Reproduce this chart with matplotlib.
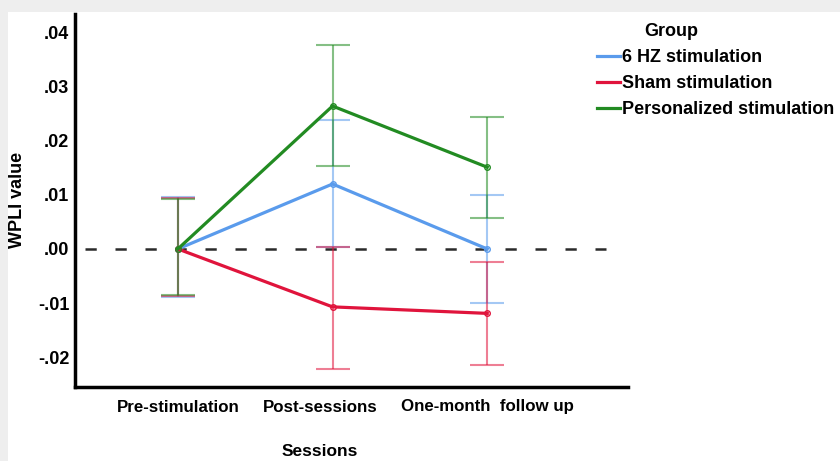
import matplotlib.pyplot as plt
from matplotlib.patches import Rectangle
from matplotlib.lines import Line2D
from matplotlib.transforms import ScaledTranslation

plt.rcParams['font.family'] = ['Liberation Sans', 'DejaVu Sans']
plt.rcParams['font.weight'] = 'bold'

sessions = ['Pre-stimulation', 'Post-sessions', 'One-month  follow up']
groups = ['6 HZ stimulation', 'Sham stimulation', 'Personalized stimulation']
colors = ['#5a9bec', '#e0143c', '#228b22']

# group means and error bar limits per session
means_6hz = [0.0, 0.0120, 0.0000]
lower_6hz = [-0.0089, 0.0004, -0.0099]
upper_6hz = [0.0096, 0.0239, 0.0100]

means_sham = [0.0, -0.0107, -0.0119]
lower_sham = [-0.0087, -0.0221, -0.0215]
upper_sham = [0.0095, 0.0004, -0.0025]

means_pers = [0.0, 0.0264, 0.0151]
lower_pers = [-0.0085, 0.0153, 0.0058]
upper_pers = [0.0093, 0.0376, 0.0244]


def draw_group(ax, means, lower, upper, color):
    x = range(len(means))
    yerr = [[m - lo for m, lo in zip(means, lower)],
            [hi - m for m, hi in zip(means, upper)]]
    ax.errorbar(x, means, yerr=yerr, fmt='none', ecolor=color, alpha=0.55,
                elinewidth=1.5, capsize=12.5, capthick=1.5, zorder=2)
    ax.plot(x, means, color=color, lw=2.3, marker='o', ms=4,
            mfc='none', mec=color, zorder=3)


fig = plt.figure(figsize=(8.4, 4.61), dpi=100, facecolor='#eeeeee')
fig.patches.append(Rectangle((8 / 840, 0), 1, 1 - 12 / 461, transform=fig.transFigure,
                             facecolor='white', edgecolor='none', zorder=-1))
ax = fig.add_axes([75 / 840, 1 - 387 / 461, 553 / 840, 373 / 461])
ax.set_facecolor('none')

draw_group(ax, means_6hz, lower_6hz, upper_6hz, colors[0])
draw_group(ax, means_sham, lower_sham, upper_sham, colors[1])
draw_group(ax, means_pers, lower_pers, upper_pers, colors[2])

# reference line at zero
ax.hlines(0.0, -0.6, 2.77, colors='#2a2a2a', linestyles=(0, (4.5, 7.5)), lw=1.8, zorder=1)

ax.set_xlim(-0.665, 2.91)
ax.set_ylim(-0.0255, 0.0434)
ax.set_xticks(range(len(sessions)))
ax.set_xticklabels(sessions, fontsize=12.2, fontweight='bold')
ax.set_yticks([-0.02, -0.01, 0.0, 0.01, 0.02, 0.03, 0.04])
ax.set_yticklabels(['-.02', '-.01', '.00', '.01', '.02', '.03', '.04'],
                   fontsize=13, fontweight='bold')
ax.tick_params(axis='x', length=0, pad=9)
ax.tick_params(axis='y', length=0, pad=4)
for side in ['top', 'right']:
    ax.spines[side].set_visible(False)
for side in ['left', 'bottom']:
    ax.spines[side].set_linewidth(2.5)

# nudge the middle label left so the three labels don't crowd
lbl = ax.get_xticklabels()[1]
lbl.set_transform(lbl.get_transform() + ScaledTranslation(-12 / 100, 0, fig.dpi_scale_trans))

fig.text(18 / 840, 1 - 200 / 461, 'WPLI value', rotation=90, ha='center', va='center',
         fontsize=13, fontweight='bold')
fig.text(320 / 840, 1 - 451 / 461, 'Sessions', ha='center', va='center',
         fontsize=12.5, fontweight='bold')

handles = [Line2D([], [], color=c, lw=2.3) for c in colors]
fig.text(671 / 840, 1 - 31 / 461, 'Group', ha='center', va='center',
         fontsize=13, fontweight='bold')
fig.legend(handles=handles, labels=groups, loc='upper left',
           bbox_to_anchor=(597 / 840, 1 - 49 / 461),
           frameon=False, handlelength=1.25, handletextpad=0.12,
           labelspacing=0.5, borderaxespad=0, borderpad=0,
           prop={'weight': 'bold', 'size': 13})

fig.savefig('out.png', dpi=100, facecolor=fig.get_facecolor())
